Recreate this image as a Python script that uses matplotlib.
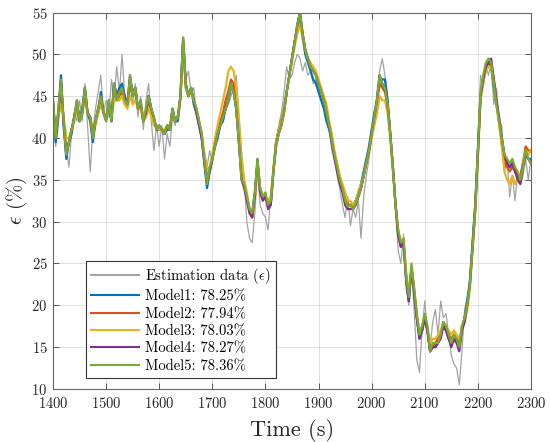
import numpy as np
import matplotlib
matplotlib.use("Agg")
import matplotlib.pyplot as plt

# time grid (s), one sample every 5 s
t = np.arange(1400, 2301, 5)

# measured porosity (gray, noisy)
estimation = [
    43.5, 39.0, 41.5, 46.0, 40.5, 39.0, 36.5, 40.5, 43.0, 42.0,
    44.5, 42.0, 46.5, 41.5, 36.0, 41.0, 43.5, 45.5, 47.5, 43.0,
    44.5, 42.5, 47.0, 45.0, 48.5, 45.5, 50.0, 45.0, 44.0, 46.5,
    44.0, 46.5, 42.5, 45.0, 41.0, 44.5, 46.5, 42.0, 38.5, 41.5,
    39.0, 41.5, 37.5, 40.5, 39.0, 42.5, 41.5, 43.0, 44.5, 51.5,
    47.0, 48.0, 45.5, 46.0, 43.0, 42.5, 39.5, 38.5, 36.5, 38.5,
    37.0, 39.5, 40.0, 41.5, 42.0, 43.5, 44.0, 45.0, 46.0, 47.5,
    43.0, 38.5, 35.0, 30.0, 28.0, 27.5, 31.0, 36.5, 32.0, 31.0,
    30.5, 29.0, 33.0, 35.5, 39.0, 41.5, 43.0, 45.5, 48.5, 47.0,
    47.5, 49.0, 50.0, 49.5, 48.0, 49.0, 47.5, 48.0, 46.5, 47.0,
    45.5, 46.0, 44.0, 42.5, 41.0, 38.5, 37.5, 35.5, 34.0, 32.0,
    30.5, 33.0, 29.5, 31.5, 30.5, 32.5, 28.0, 33.0, 35.5, 37.5,
    40.0, 42.0, 45.5, 48.0, 49.5, 47.5, 45.0, 41.0, 36.0, 31.5,
    26.5, 25.0, 28.5, 22.0, 20.0, 24.5, 19.5, 13.5, 12.0, 17.0,
    20.5, 17.0, 15.0, 18.0, 19.5, 16.5, 20.5, 18.5, 19.0, 16.5,
    14.0, 13.0, 12.5, 10.5, 14.5, 19.5, 21.0, 22.5, 28.0, 33.0,
    39.5, 47.5, 46.0, 48.5, 47.5, 49.0, 44.0, 46.0, 42.0, 41.5,
    36.0, 37.5, 33.0, 35.5, 32.5, 36.0, 34.5, 35.5, 37.5, 35.0,
    37.5,
]

model1 = [
    44.0, 39.5, 43.0, 47.5, 41.5, 37.5, 39.5, 40.5, 42.5, 44.0,
    42.0, 43.5, 46.0, 43.0, 42.0, 39.5, 42.0, 43.0, 45.5, 43.0,
    42.5, 44.0, 42.0, 46.5, 45.0, 46.0, 46.5, 45.0, 44.0, 47.0,
    45.5, 46.0, 43.5, 44.0, 42.0, 43.0, 45.0, 43.5, 42.0, 41.0,
    41.0, 41.0, 40.5, 41.0, 41.0, 43.5, 42.0, 42.0, 45.0, 51.5,
    46.0, 45.0, 46.0, 44.0, 43.0, 41.5, 40.0, 37.0, 34.0, 36.0,
    37.5, 39.0, 40.0, 41.5, 42.0, 43.5, 44.5, 46.0, 46.0, 43.5,
    39.5, 35.5, 34.5, 33.0, 31.5, 31.0, 33.5, 37.0, 33.5, 33.0,
    33.0, 32.0, 32.0, 36.0, 39.5, 41.0, 42.0, 43.5, 45.5, 47.5,
    49.5, 51.5, 53.5, 55.0, 52.0, 50.0, 49.0, 48.0, 47.0, 46.5,
    45.5, 44.5, 43.5, 42.0, 41.0, 39.5, 38.0, 36.5, 35.0, 34.0,
    32.5, 32.0, 32.0, 32.0, 32.5, 33.5, 34.5, 36.0, 37.5, 39.0,
    41.0, 43.0, 44.5, 47.0, 47.0, 47.0, 44.5, 40.5, 36.5, 32.0,
    28.5, 27.0, 27.5, 23.0, 20.5, 24.5, 21.5, 18.5, 16.0, 17.0,
    18.5, 17.0, 14.5, 15.0, 15.0, 15.5, 16.5, 17.5, 17.0, 16.0,
    15.5, 16.0, 15.5, 15.0, 17.0, 18.5, 20.5, 23.0, 27.5, 32.0,
    38.5, 45.0, 47.0, 48.5, 49.0, 48.5, 46.0, 44.0, 42.0, 40.0,
    38.0, 37.0, 36.5, 37.0, 36.0, 35.5, 35.0, 37.0, 38.0, 37.5,
    37.5,
]

model2 = [
    44.0, 40.5, 43.0, 46.0, 42.0, 38.5, 39.5, 41.0, 42.5, 44.0,
    42.5, 43.0, 45.5, 43.0, 42.5, 40.5, 42.0, 43.5, 44.5, 43.0,
    42.5, 44.0, 42.5, 46.0, 44.5, 45.0, 45.5, 44.5, 44.0, 46.5,
    45.0, 45.5, 43.5, 44.0, 42.0, 43.0, 44.5, 43.0, 42.0, 41.5,
    41.0, 41.0, 40.5, 41.5, 41.0, 43.0, 42.0, 42.5, 45.0, 51.5,
    46.5, 45.0, 45.5, 44.5, 43.5, 42.0, 40.5, 37.5, 35.0, 36.5,
    37.5, 39.5, 41.0, 42.0, 43.0, 44.5, 45.5, 47.0, 46.5, 44.5,
    40.5, 36.0, 34.5, 33.0, 31.5, 30.5, 33.0, 37.0, 34.0, 33.0,
    33.0, 32.0, 32.5, 36.0, 39.5, 41.0, 42.0, 43.5, 45.5, 47.5,
    49.5, 51.5, 53.0, 54.5, 52.5, 50.5, 49.5, 48.5, 48.0, 47.5,
    46.5, 45.5, 44.5, 43.0, 41.5, 40.0, 38.0, 36.5, 35.0, 34.0,
    33.0, 32.0, 32.0, 31.5, 32.5, 33.0, 34.0, 35.5, 37.0, 38.5,
    40.5, 42.0, 44.0, 46.5, 46.0, 45.5, 44.0, 40.5, 36.5, 32.0,
    28.5, 27.0, 27.5, 23.5, 21.0, 24.5, 22.0, 18.5, 16.5, 17.0,
    18.5, 17.0, 14.5, 15.0, 15.5, 16.0, 16.5, 18.0, 17.5, 16.5,
    16.0, 16.5, 16.0, 15.5, 17.5, 18.5, 20.0, 22.5, 27.0, 31.5,
    38.0, 45.0, 47.0, 48.5, 49.0, 49.0, 47.0, 44.5, 42.0, 39.5,
    37.0, 36.5, 36.0, 36.5, 36.0, 35.5, 35.5, 37.0, 39.0, 38.5,
    38.5,
]

model3 = [
    43.5, 41.0, 42.5, 44.0, 42.5, 40.0, 40.0, 41.0, 42.0, 43.5,
    42.5, 43.0, 44.5, 43.0, 42.5, 41.0, 41.5, 43.0, 44.0, 43.0,
    42.5, 43.5, 42.5, 44.5, 44.5, 44.5, 45.0, 44.0, 43.5, 45.0,
    44.0, 44.5, 43.5, 43.5, 42.0, 42.5, 43.5, 42.5, 41.5, 41.5,
    41.0, 41.0, 41.0, 41.5, 41.5, 42.5, 42.0, 42.5, 44.5, 50.5,
    46.0, 45.0, 45.5, 44.5, 43.5, 42.0, 40.5, 38.0, 36.0, 36.5,
    38.0, 40.0, 41.5, 43.0, 44.5, 46.0, 48.0, 48.5, 48.0, 46.0,
    42.0, 37.5, 35.0, 33.5, 31.5, 30.5, 32.5, 36.5, 34.0, 33.0,
    33.0, 32.5, 33.0, 36.5, 39.5, 41.0, 42.0, 43.5, 45.5, 47.5,
    49.0, 51.0, 52.5, 53.5, 52.0, 50.5, 49.5, 49.0, 48.5, 48.0,
    47.0, 46.0, 45.0, 44.0, 42.0, 40.5, 38.5, 37.0, 35.5, 34.5,
    33.5, 32.5, 32.5, 32.0, 32.5, 33.5, 34.5, 35.5, 37.0, 38.5,
    40.0, 41.5, 43.0, 45.0, 44.5, 44.5, 43.0, 40.0, 36.0, 32.0,
    29.0, 27.5, 28.0, 24.0, 21.5, 24.5, 22.0, 19.0, 17.0, 17.5,
    18.5, 17.5, 15.5, 16.0, 16.0, 16.5, 17.0, 18.0, 17.5, 17.0,
    16.5, 17.0, 16.5, 16.0, 17.0, 18.0, 19.5, 22.0, 26.5, 31.0,
    37.5, 44.5, 46.5, 48.0, 48.5, 48.5, 46.5, 44.0, 41.5, 39.0,
    36.0, 35.0, 34.5, 35.5, 34.5, 35.0, 34.5, 36.5, 38.5, 38.0,
    38.5,
]

model4 = [
    44.5, 40.0, 43.0, 47.0, 42.0, 38.0, 39.5, 41.0, 42.5, 44.5,
    42.0, 43.0, 46.0, 43.0, 42.5, 40.0, 42.0, 43.5, 45.0, 43.0,
    42.0, 44.5, 42.0, 46.5, 45.0, 45.5, 46.0, 45.0, 44.0, 47.5,
    45.0, 46.0, 43.5, 44.5, 42.0, 43.0, 45.0, 43.5, 42.5, 41.0,
    41.5, 41.0, 40.5, 41.5, 41.0, 43.5, 42.0, 42.5, 45.0, 52.0,
    46.5, 45.0, 46.0, 44.5, 43.0, 41.5, 40.0, 37.0, 34.5, 36.0,
    37.5, 39.0, 40.5, 41.5, 42.5, 43.5, 44.5, 46.5, 45.5, 43.5,
    39.5, 35.0, 34.0, 32.5, 31.0, 30.5, 33.0, 37.5, 33.5, 32.5,
    33.0, 31.5, 32.0, 36.0, 39.0, 40.5, 41.5, 43.0, 45.5, 47.5,
    49.5, 51.5, 53.5, 55.0, 52.5, 50.5, 49.5, 48.5, 48.0, 47.5,
    46.5, 45.5, 44.5, 43.0, 41.5, 39.5, 37.5, 36.0, 34.5, 33.5,
    32.0, 31.5, 31.5, 31.5, 32.0, 33.0, 34.0, 35.5, 37.0, 38.5,
    40.5, 42.5, 44.5, 47.5, 46.5, 46.0, 44.0, 40.5, 36.5, 32.0,
    28.5, 27.0, 27.5, 23.0, 20.5, 24.5, 21.5, 18.5, 16.0, 17.0,
    18.5, 17.0, 14.5, 15.0, 15.0, 15.5, 16.0, 17.5, 17.0, 16.0,
    15.0, 16.0, 15.5, 14.5, 17.0, 18.0, 20.0, 22.5, 27.0, 31.5,
    38.0, 45.0, 47.0, 48.5, 49.0, 49.5, 47.0, 44.5, 42.5, 40.0,
    38.0, 37.0, 36.5, 37.0, 36.0, 35.0, 34.5, 36.5, 38.0, 37.5,
    37.0,
]

model5 = [
    44.5, 40.0, 43.5, 47.0, 42.0, 38.0, 39.5, 41.0, 42.5, 44.5,
    42.0, 43.0, 46.0, 43.0, 42.5, 40.0, 42.0, 43.5, 45.0, 43.0,
    42.0, 44.5, 42.0, 46.5, 44.5, 45.5, 46.0, 44.5, 44.0, 47.5,
    45.0, 46.0, 43.5, 44.5, 42.0, 43.5, 45.0, 43.5, 42.5, 41.0,
    41.5, 41.0, 40.5, 41.5, 41.0, 43.5, 42.0, 42.5, 45.0, 52.0,
    46.5, 45.0, 46.0, 44.5, 43.5, 42.0, 40.5, 37.5, 34.5, 36.5,
    37.5, 39.0, 40.5, 41.5, 42.5, 43.5, 44.5, 46.5, 45.5, 43.5,
    39.5, 35.0, 34.5, 33.0, 31.5, 31.0, 33.5, 37.5, 34.0, 33.0,
    33.5, 32.0, 32.5, 36.0, 39.0, 40.5, 41.5, 43.0, 45.5, 47.5,
    49.5, 51.5, 53.5, 55.0, 52.5, 50.5, 49.5, 48.5, 48.0, 47.5,
    46.5, 45.5, 44.5, 43.0, 41.5, 39.8, 38.0, 36.5, 35.0, 34.0,
    32.5, 31.8, 32.0, 31.5, 32.2, 33.0, 34.0, 35.5, 37.0, 38.5,
    40.5, 42.5, 44.5, 47.5, 46.5, 46.0, 44.0, 40.5, 36.5, 32.0,
    29.0, 27.5, 28.0, 23.5, 21.0, 25.0, 22.0, 19.0, 16.5, 17.5,
    19.0, 17.5, 14.5, 15.5, 15.5, 15.5, 16.5, 18.0, 17.5, 16.5,
    15.5, 16.5, 16.0, 15.0, 17.5, 18.5, 20.0, 22.5, 27.0, 31.5,
    38.5, 45.5, 47.5, 49.0, 49.5, 49.0, 46.5, 44.0, 42.0, 40.0,
    38.0, 37.5, 37.0, 37.5, 36.5, 36.0, 35.0, 36.5, 38.5, 37.5,
    37.0,
]

labels = ["Model1: 78.25%", "Model2: 77.94%", "Model3: 78.03%",
          "Model4: 78.27%", "Model5: 78.36%"]
colors = ["#0072BD", "#D95319", "#EDB120", "#7E2F8E", "#77AC30"]


def main():
    plt.rcParams["font.family"] = "serif"
    plt.rcParams["font.serif"] = ["cmr10", "DejaVu Serif"]
    plt.rcParams["mathtext.fontset"] = "cm"
    plt.rcParams["axes.formatter.use_mathtext"] = True
    plt.rcParams["axes.unicode_minus"] = False

    fig = plt.figure(figsize=(5.5, 4.42), dpi=100)
    ax = fig.add_axes([0.0964, 0.12, 0.869, 0.8517])

    ax.plot(t, estimation, color="#a3a3a3", lw=0.9,
            label=r"Estimation data ($\epsilon$)")
    for y, c, lab in zip([model1, model2, model3, model4, model5], colors, labels):
        ax.plot(t, y, color=c, lw=1.6, label=lab)

    ax.set_xlim(1400, 2300)
    ax.set_ylim(10, 55)
    ax.set_xticks(np.arange(1400, 2301, 100))
    ax.set_yticks(np.arange(10, 56, 5))
    ax.grid(True, color="#dcdcdc", lw=0.6)
    ax.set_axisbelow(True)
    ax.tick_params(direction="in", top=True, right=True, length=4,
                   width=0.7, color="#555555", labelsize=10.5,
                   labelcolor="#262626")
    ax.tick_params(axis="x", pad=5)
    ax.tick_params(axis="y", pad=4)
    for s in ax.spines.values():
        s.set_color("#666666")
        s.set_linewidth(0.8)

    ax.set_xlabel("Time (s)", fontsize=16, color="#262626", labelpad=6)
    ax.set_ylabel(r"$\epsilon$ (%)", fontsize=15, color="#262626", labelpad=2)

    leg = ax.legend(loc="lower left", bbox_to_anchor=(0.069, 0.029),
                    borderaxespad=0, fontsize=10.5, handlelength=3.3,
                    labelspacing=0.25, handletextpad=0.4, borderpad=0.35,
                    fancybox=False, framealpha=1)
    leg.get_frame().set_edgecolor("#333333")
    leg.get_frame().set_linewidth(0.8)
    for line in leg.get_lines():
        line.set_linewidth(1.5)

    fig.savefig("out.png", dpi=100)


if __name__ == "__main__":
    main()
